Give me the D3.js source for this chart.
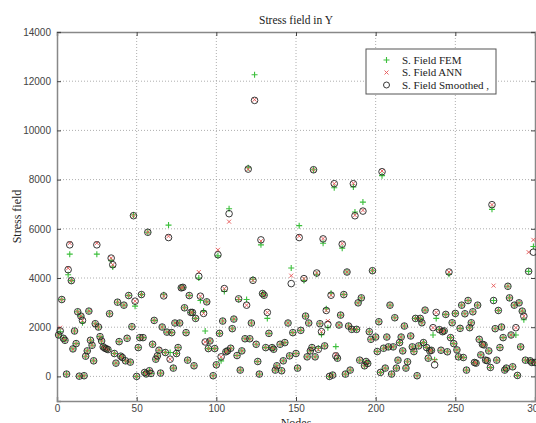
<!DOCTYPE html>
<html>
<head>
<meta charset="utf-8">
<script src="https://cdn.jsdelivr.net/npm/d3@7"></script>
<style>
  body { margin: 0; background: #fff; }
  .tick text { font-family: "Liberation Sans", Arial, sans-serif; font-size: 10px; fill: #444; }
  .ser { font-family: "Liberation Serif", "Times New Roman", serif; fill: #222; }
</style>
</head>
<body>
<div id="chart"></div>
<script>
// node index of each sample
var nodes = [1,2,3,4,5,6,7,8,9,10, 11,12,13,14,15,16,17,18,19,20,
  21,22,23,24,25,26,27,28,29,30, 31,32,33,34,35,36,37,38,39,40,
  41,42,43,44,45,46,47,48,49,50, 51,52,53,54,55,56,57,58,59,60,
  61,62,63,64,65,66,67,68,69,70, 71,72,73,74,75,76,77,78,79,80,
  81,82,83,84,85,86,87,89,90,92, 93,94,95,96,98,99,100,101,102,103,
  104,105,106,107,108,109,110,111,113,114, 115,116,118,119,120,121,122,123,124,125,
  126,127,128,129,130,131,132,133,135,136, 137,138,140,141,142,143,145,146,147,148,
  150,151,152,153,155,156,157,158,159,160, 161,162,163,164,165,166,167,168,169,170,
  171,172,173,174,175,176,177,178,179,180, 181,182,183,184,185,186,187,188,189,190,
  191,192,193,194,195,196,197,198,200,201, 202,203,204,205,206,207,208,209,210,211,
  212,213,214,215,216,217,218,219,220,222, 223,224,225,226,227,228,229,230,231,232,
  233,234,235,236,237,238,240,241,242,243, 244,245,246,247,248,249,250,251,252,253,
  254,255,256,257,258,259,260,261,262,263, 264,265,266,267,268,269,270,271,272,273,
  274,275,276,277,278,279,280,281,282,283, 284,285,286,287,288,289,290,291,292,293,
  294,296,297,298,299,300];

var smoothed = [1684,1850,3125,1549,1468,94,4337,5348,3893,1118, 1845,1333,2627,10,2450,2276,27,822,1037,2654,
  1468,1266,633,2142,5348,2007,1616,1441,1200,1150, 1120,1090,2546,4809,4540,930,539,3017,1414,822,
  768,2896,633,1549,3287,580,2020,6533,3058,0, 1172,1576,3327,1576,160,100,5860,230,120,1306,
  2276,700,835,1064,135,2007,3273,970,1800,5644, 700,1780,337,2170,930,1172,2170,3600,3620,2788,
  1778,660,3287,2600,2600,431,2357,4068,3260,2560, 1400,3030,1131,1440,27,1131,471,4944,1750,795,
  2250,3570,1000,1037,6614,1145,1940,2330,848,3152, 256,1037,1530,2896,8427,1530,2170,3906,11220,1306,
  606,94,5550,3367,3300,1170,2600,1750,1170,1104, 256,431,1306,229,633,1374,2170,835,3772,1778,
  930,337,5644,1872,3974,2452,795,2170,1037,1172, 8400,795,4203,1100,2142,1818,5590,1240,2680,2115,
  0,3300,54,7833,835,740,2088,2492,5375,3327, 94,4243,2047,256,1912,7833,6530,1912,2990,660,
  3192,6720,431,606,525,1818,1508,4297,1600,1010, 2222,162,8320,1145,337,1600,1200,2896,94,1200,
  2384,337,660,1374,1600,1037,2047,337,593,1643, 1200,1010,2357,27,1240,2357,2180,1374,2694,1172,
  740,1037,1060,1980,470,2600,1900,1064,1818,1850, 2520,1000,4243,1576,2180,1333,2560,1077,795,1953,
  2896,768,2546,256,3085,1980,2180,2627,566,540, 2896,1508,875,1306,1280,660,640,1037,364,6980,
  3085,1940,660,2680,1172,2007,1576,256,337,3663, 3192,1684,390,2896,1980,40,2990,1200,2654,2450,
  660,4270,633,566,5050,566];

var fem = [1684,1818,3125,1549,1468,94,4135,4970,3893,1118, 1845,1333,2627,10,2450,2180,27,822,1037,2654,
  1468,1266,633,2142,4970,2007,1616,1441,1200,1150, 1120,1090,2546,4700,4450,930,539,3017,1414,822,
  768,2896,633,1549,3287,580,2020,6560,2856,0, 1172,1576,3327,1576,160,100,5860,230,120,1306,
  2276,700,835,1064,135,2007,3320,970,1800,6150, 970,1780,337,2170,930,1172,2170,3600,3620,2788,
  1778,660,3287,2600,2600,431,2357,4000,3085,2654, 1845,3030,1131,1440,27,1131,471,4900,1750,633,
  2250,3450,1000,1037,6817,1145,1940,2330,848,3125, 256,1037,1530,3125,8480,1530,2170,3950,12264,1306,
  606,94,5348,3367,3300,1170,2357,1750,1170,1104, 256,431,1306,229,633,1374,2170,835,4405,1778,
  930,337,6129,1872,3900,2452,795,2170,1037,1172, 8400,795,4150,1145,2142,1700,5415,1240,2750,1980,
  0,3380,54,7670,1212,740,2088,2492,5213,3327, 94,4243,2047,256,1912,7700,6680,1912,2990,660,
  3192,7085,431,606,525,1818,1508,4297,1600,1010, 2222,162,8160,1145,337,1600,1200,2896,94,1200,
  2384,337,660,1374,1600,1037,2047,337,593,1643, 1200,1010,2357,27,1240,2357,2180,1374,2694,1172,
  740,1037,1060,1684,680,2357,1900,1064,1818,1850, 2520,1000,4150,1576,2180,1333,2560,1077,795,1953,
  2896,768,2546,256,3085,1980,2180,2627,566,540, 2896,1508,875,1306,1280,660,640,1037,364,6790,
  3085,1940,660,2680,1172,2007,1576,256,337,3663, 3192,1684,390,2896,1684,40,2990,1200,2654,2300,
  660,4270,633,566,5280,566];

var ann = [1684,1980,3125,1549,1468,94,4400,5420,3893,1118, 1845,1333,2627,10,2450,2276,27,822,1037,2654,
  1468,1266,633,2142,5420,2007,1616,1441,1200,1150, 1120,1090,2546,4809,4540,930,539,3017,1414,822,
  768,2896,633,1549,3287,580,2020,6533,3058,0, 1172,1576,3327,1576,160,100,5860,230,120,1306,
  2276,700,835,1064,135,2007,3273,970,1800,5700, 700,1780,337,2170,930,1172,2170,3600,3620,2788,
  1778,660,3287,2600,2600,431,2357,4243,3260,2560, 1400,3030,1131,1440,27,1131,471,5145,1750,795,
  2250,3570,1000,1037,6290,1145,1940,2330,848,3152, 256,1037,1530,2896,8427,1530,2170,3906,11250,1306,
  606,94,5500,3367,3300,1170,2600,1750,1170,1104, 256,431,1306,229,633,1374,2170,835,4095,1778,
  930,337,5700,1872,3974,2452,795,2170,1037,1172, 8400,795,4203,1100,2142,1818,5600,1240,2680,2250,
  0,3300,54,7833,900,740,2088,2492,5400,3327, 94,4243,2047,256,1912,7850,6550,1912,2990,660,
  3192,6750,431,606,525,1818,1508,4297,1600,1010, 2222,162,8350,1145,337,1600,1200,2896,94,1200,
  2384,337,660,1374,1600,1037,2047,337,593,1643, 1200,1010,2357,27,1240,2357,2180,1374,2694,1172,
  740,1037,1060,1980,650,2600,1900,1064,1818,1850, 2520,1000,4243,1576,2180,1333,2560,1077,795,1953,
  2896,768,2546,256,3085,1980,2180,2627,566,540, 2896,1508,875,1306,1280,660,640,1037,364,6980,
  3690,1940,660,2680,1172,2007,1576,256,337,3663, 3192,1684,390,2896,1980,40,2990,1200,2654,2450,
  660,5050,633,566,5550,566];

var xTicks = [0, 50, 100, 150, 200, 250, 300];
var yTicks = [0, 2000, 4000, 6000, 8000, 10000, 12000, 14000];
var legendLabels = ["S. Field FEM", "S. Field ANN", "S. Field Smoothed ,"];

var svgWidth = 536, svgHeight = 423;
var margin = { top: 32, right: 1, bottom: 22, left: 57 };

var svg = d3.select("#chart").append("svg")
  .attr("width", svgWidth)
  .attr("height", svgHeight);

var x = d3.scaleLinear().domain([0, 300]).range([margin.left, svgWidth - margin.right]);
var y = d3.scaleLinear().domain([-1000, 14000]).range([svgHeight - margin.bottom, margin.top]);

var x0 = x.range()[0], x1 = x.range()[1], y0 = y.range()[0], y1 = y.range()[1];

// dotted grid
var grid = svg.append("g").attr("stroke", "#999").attr("stroke-width", 0.8).attr("stroke-dasharray", "1,2");
grid.selectAll(".vg").data(xTicks.slice(1, -1)).enter().append("line")
  .attr("x1", d => x(d)).attr("x2", d => x(d)).attr("y1", y1).attr("y2", y0);
grid.selectAll(".hg").data(yTicks.slice(0, -1)).enter().append("line")
  .attr("y1", d => y(d)).attr("y2", d => y(d)).attr("x1", x0).attr("x2", x1);

// axes, ticks pointing inward
var bottomAxis = svg.append("g")
  .attr("transform", `translate(0, ${y0})`)
  .call(d3.axisBottom(x).tickValues(xTicks).tickSize(-4).tickPadding(4));
var topAxis = svg.append("g")
  .attr("transform", `translate(0, ${y1})`)
  .call(d3.axisTop(x).tickValues(xTicks).tickSize(-4).tickFormat(""));
var leftAxis = svg.append("g")
  .attr("transform", `translate(${x0}, 0)`)
  .call(d3.axisLeft(y).tickValues(yTicks).tickSize(-4).tickPadding(6).tickFormat(d3.format("d")));
var rightAxis = svg.append("g")
  .attr("transform", `translate(${x1}, 0)`)
  .call(d3.axisRight(y).tickValues(yTicks).tickSize(-4).tickFormat(""));

[bottomAxis, topAxis, leftAxis, rightAxis].forEach(function(a) {
  a.select(".domain").attr("stroke", "#888").attr("stroke-width", 1.5);
  a.selectAll(".tick line").attr("stroke", "#444");
});

// markers: FEM plus, ANN cross, smoothed circle
var pts = nodes.map(function(n, i) {
  return { node: n, fem: fem[i], ann: ann[i], sm: smoothed[i] };
});

var plot = svg.append("g");

plot.selectAll(".fem").data(pts).enter().append("path")
  .attr("d", d => `M${x(d.node) - 3},${y(d.fem)}h6M${x(d.node)},${y(d.fem) - 3}v6`)
  .attr("stroke", "#3cbf3c").attr("stroke-width", 1.1).attr("fill", "none");

plot.selectAll(".ann").data(pts).enter().append("path")
  .attr("d", d => `M${x(d.node) - 2},${y(d.ann) - 2}l4,4M${x(d.node) - 2},${y(d.ann) + 2}l4,-4`)
  .attr("stroke", "#e65555").attr("stroke-width", 0.9).attr("fill", "none");

plot.selectAll(".sm").data(pts).enter().append("circle")
  .attr("cx", d => x(d.node))
  .attr("cy", d => y(d.sm))
  .attr("r", 3.3)
  .attr("fill", "none")
  .attr("stroke", "#222")
  .attr("stroke-width", 0.9);

// title and labels
svg.append("text").attr("class", "ser")
  .attr("x", (x0 + x1) / 2).attr("y", 24)
  .attr("text-anchor", "middle").attr("font-size", 11.5)
  .text("Stress field in Y");

svg.append("text").attr("class", "ser")
  .attr("x", (x0 + x1) / 2).attr("y", 427)
  .attr("text-anchor", "middle").attr("font-size", 12)
  .text("Nodes");

svg.append("text").attr("class", "ser")
  .attr("transform", `translate(21, ${(y0 + y1) / 2}) rotate(-90)`)
  .attr("text-anchor", "middle").attr("font-size", 12)
  .text("Stress field");

// legend
var legend = svg.append("g");
legend.append("rect")
  .attr("x", 366).attr("y", 49).attr("width", 130).attr("height", 45)
  .attr("fill", "#fff").attr("stroke", "#555").attr("stroke-width", 1);

var rowY = [60, 72.5, 85];
legendLabels.forEach(function(label, i) {
  var cy = rowY[i], cx = 386.5;
  if (i === 0) {
    legend.append("path").attr("d", `M${cx - 3},${cy}h6M${cx},${cy - 3}v6`)
      .attr("stroke", "#3cbf3c").attr("stroke-width", 1.1);
  } else if (i === 1) {
    legend.append("path").attr("d", `M${cx - 2},${cy - 2}l4,4M${cx - 2},${cy + 2}l4,-4`)
      .attr("stroke", "#e65555").attr("stroke-width", 0.9);
  } else {
    legend.append("circle").attr("cx", cx).attr("cy", cy).attr("r", 3)
      .attr("fill", "none").attr("stroke", "#222").attr("stroke-width", 0.9);
  }
  legend.append("text").attr("class", "ser")
    .attr("x", 402).attr("y", cy + 3.5).attr("font-size", 11)
    .text(label);
});
</script>
</body>
</html>
